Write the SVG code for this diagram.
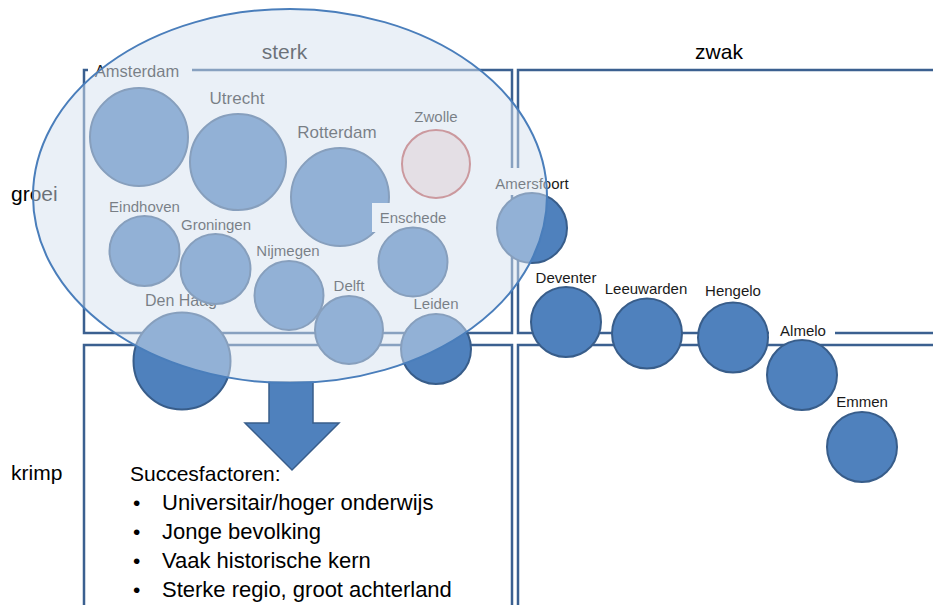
<svg xmlns="http://www.w3.org/2000/svg" width="933" height="605" viewBox="0 0 933 605">
<style>
.box{fill:none;stroke:#3b6090;stroke-width:2.5}
.c{fill:#4f81bd;stroke:#385d8a;stroke-width:2}
.z{fill:#f2dcdb;stroke:#c0504d;stroke-width:2}
.bg{fill:#ffffff}
.t{font-family:"Liberation Sans",Arial,sans-serif;fill:#1a1a1a;text-anchor:middle}
.s15{font-size:15px}
.s17{font-size:17px}
.big{font-family:"Liberation Sans",Arial,sans-serif;font-size:21px;fill:#000}
.b22{font-size:22px}
</style>
<rect width="933" height="605" fill="#ffffff"/>
<g id="quadrants">
<rect class="box" x="84" y="70" width="428" height="263"/>
<rect class="box" x="518" y="70" width="430" height="263"/>
<rect class="box" x="84" y="345" width="428" height="270"/>
<rect class="box" x="518" y="345" width="430" height="270"/>
</g>
<g id="axis-labels">
<text class="big" x="284.5" y="59" text-anchor="middle">sterk</text>
<text class="big" x="719" y="59" text-anchor="middle">zwak</text>
<text class="big" x="11" y="201">groei</text>
<text class="big" x="11" y="480">krimp</text>
</g>
<g id="amsterdam">
<rect class="bg" x="88" y="60" width="104" height="20"/>
<text class="t" x="137" y="77" style="font-size:16.5px">Amsterdam</text>
<circle class="c" cx="139" cy="137" r="49"/>
</g>
<g id="utrecht">
<text class="t s17" x="237" y="104">Utrecht</text>
<circle class="c" cx="238" cy="162" r="48"/>
</g>
<g id="rotterdam">
<text class="t s17" x="337" y="138">Rotterdam</text>
<circle class="c" cx="340" cy="197" r="49"/>
</g>
<g id="zwolle">
<text class="t s15" x="436" y="122">Zwolle</text>
<circle class="z" cx="436" cy="164" r="34"/>
</g>
<g id="eindhoven">
<text class="t s15" x="144.5" y="212">Eindhoven</text>
<circle class="c" cx="144.5" cy="251" r="35"/>
</g>
<g id="denhaag">
<text class="t" x="181" y="306" style="font-size:16px">Den Haag</text>
<circle class="c" cx="182" cy="361" r="48.5"/>
</g>
<g id="groningen">
<text class="t s15" x="216" y="230">Groningen</text>
<circle class="c" cx="215.5" cy="269" r="35"/>
</g>
<g id="nijmegen">
<text class="t s15" x="288" y="256">Nijmegen</text>
<circle class="c" cx="289" cy="295.5" r="34.5"/>
</g>
<g id="enschede">
<rect class="bg" x="372" y="203" width="82" height="29"/>
<text class="t s15" x="413" y="223">Enschede</text>
<circle class="c" cx="413" cy="262" r="34.5"/>
</g>
<g id="delft">
<text class="t s15" x="349" y="291">Delft</text>
<circle class="c" cx="349" cy="330" r="34"/>
</g>
<g id="leiden">
<text class="t s15" x="436" y="309">Leiden</text>
<circle class="c" cx="436" cy="349" r="35"/>
</g>
<g id="amersfoort">
<rect class="bg" x="490" y="168" width="84" height="27"/>
<text class="t s15" x="532" y="189">Amersfoort</text>
<circle class="c" cx="532" cy="228" r="35"/>
</g>
<g id="deventer">
<text class="t s15" x="566" y="283">Deventer</text>
<circle class="c" cx="566" cy="322" r="35"/>
</g>
<g id="leeuwarden">
<text class="t s15" x="646" y="294">Leeuwarden</text>
<circle class="c" cx="647" cy="333.5" r="35"/>
</g>
<g id="hengelo">
<text class="t s15" x="733" y="296">Hengelo</text>
<circle class="c" cx="733" cy="337.5" r="35"/>
</g>
<g id="almelo">
<rect class="bg" x="769" y="318" width="66" height="20"/>
<text class="t s15" x="803" y="336">Almelo</text>
<circle class="c" cx="802" cy="375" r="35"/>
</g>
<g id="emmen">
<text class="t s15" x="862" y="407">Emmen</text>
<circle class="c" cx="862" cy="447" r="35"/>
</g>
<g id="connectors">
<polygon points="269,382 313,382 313,423 339,423 292,470 245,423 269,423" fill="#4f81bd" stroke="#385d8a" stroke-width="1.5"/>
</g>
<g id="strong-cluster">
<ellipse cx="290" cy="196" rx="257" ry="187" fill="#d6e1f0" fill-opacity="0.5" stroke="#4a7ebb" stroke-width="2"/>
</g>
<g id="succesfactoren">
<text class="big" x="130" y="481">Succesfactoren:</text>
<text class="big" x="133" y="510">•</text>
<text class="big b22" x="162" y="510">Universitair/hoger onderwijs</text>
<text class="big" x="133" y="539">•</text>
<text class="big b22" x="162" y="539">Jonge bevolking</text>
<text class="big" x="133" y="568">•</text>
<text class="big b22" x="162" y="568">Vaak historische kern</text>
<text class="big" x="133" y="597">•</text>
<text class="big b22" x="162" y="597">Sterke regio, groot achterland</text>
</g>
</svg>
